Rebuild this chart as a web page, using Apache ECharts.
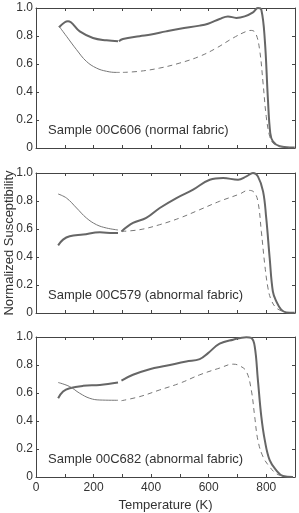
<!DOCTYPE html>
<html>
<head>
<meta charset="utf-8">
<script src="https://cdn.jsdelivr.net/npm/echarts@6/dist/echarts.min.js"></script>
<style>
  html, body { margin: 0; padding: 0; background: #fff; }
  #chart { width: 299px; height: 513px; }
</style>
</head>
<body>
<div id="chart"></div>
<script>
// sample labels, one per panel
const panelLabels = [
  'Sample 00C606 (normal fabric)',
  'Sample 00C579 (abnormal fabric)',
  'Sample 00C682 (abnormal fabric)'
];
const xName = 'Temperature (K)';
const yName = 'Normalized Susceptibility';

// panel 1 - 00C606  [temperature K, normalized susceptibility]
const p1ThickLow = [[80,0.862],[100,0.898],[111,0.905],[152,0.833],[198,0.786],[245,0.769],[285,0.762]];
const p1ThickHigh = [[288,0.762],[302,0.778],[360,0.798],[400,0.81],[452,0.833],[500,0.852],[569,0.874],[598,0.888],[638,0.921],[667,0.94],[696,0.929],[725,0.94],[754,0.969],[771,1.0],[783,0.988],[795,0.774],[806,0.345],[814,0.107],[823,0.048],[847,0.012],[881,0.004],[899,0.004]];
const p1Thin = [[80,0.87],[106,0.798],[141,0.702],[175,0.619],[210,0.571],[245,0.548],[280,0.54],[291,0.54]];
const p1Dashed = [[302,0.54],[360,0.548],[430,0.571],[500,0.607],[569,0.655],[627,0.714],[685,0.786],[731,0.833],[748,0.84],[763,0.821],[777,0.702],[789,0.464],[800,0.226],[812,0.083],[823,0.036],[847,0.012],[881,0.004]];

// panel 2 - 00C579
const p2ThickLow = [[77,0.483],[94,0.524],[117,0.548],[164,0.56],[222,0.576],[268,0.571],[285,0.571]];
const p2ThickHigh = [[297,0.583],[337,0.643],[383,0.679],[430,0.75],[488,0.821],[546,0.881],[604,0.952],[650,0.964],[702,0.952],[731,0.976],[754,1.0],[771,0.976],[789,0.869],[800,0.679],[812,0.393],[823,0.155],[835,0.083],[852,0.024],[870,0.004],[899,0.002]];
const p2Thin = [[77,0.85],[106,0.821],[141,0.75],[175,0.679],[210,0.631],[245,0.607],[285,0.593]];
const p2Dashed = [[297,0.583],[360,0.595],[430,0.631],[500,0.679],[569,0.738],[638,0.798],[708,0.85],[737,0.876],[757,0.864],[771,0.798],[783,0.583],[795,0.345],[806,0.179],[817,0.095],[835,0.036],[858,0.012]];

// panel 3 - 00C682
const p3ThickLow = [[77,0.562],[94,0.61],[117,0.634],[164,0.651],[222,0.658],[285,0.675]];
const p3ThickHigh = [[297,0.689],[337,0.73],[395,0.77],[452,0.794],[522,0.825],[569,0.842],[598,0.885],[638,0.952],[685,0.981],[731,0.998],[748,0.993],[760,0.933],[771,0.694],[783,0.431],[795,0.263],[812,0.12],[835,0.048],[858,0.007],[893,0.0]];
const p3Thin = [[77,0.675],[117,0.646],[152,0.598],[187,0.562],[222,0.55],[285,0.548]];
const p3Dashed = [[297,0.545],[360,0.574],[430,0.622],[500,0.67],[569,0.73],[638,0.778],[685,0.806],[708,0.794],[731,0.754],[748,0.622],[760,0.431],[771,0.263],[789,0.144],[812,0.072],[835,0.024],[858,0.005]];

const panels = [
  { thick: [p1ThickLow, p1ThickHigh], thin: p1Thin, dashed: p1Dashed },
  { thick: [p2ThickLow, p2ThickHigh], thin: p2Thin, dashed: p2Dashed },
  { thick: [p3ThickLow, p3ThickHigh], thin: p3Thin, dashed: p3Dashed }
];

const font = '"Liberation Sans", Arial, sans-serif';
const tops = [8, 173, 337];
const plotH = 140;

const grid = [], xAxis = [], yAxis = [], series = [], graphic = [];
const lineCol = '#444';

panels.forEach(function (p, i) {
  grid.push({ left: 36, top: tops[i], width: 259, height: plotH, outerBoundsMode: 'none', containLabel: false });
  const last = i === panels.length - 1;
  const baseX = {
    gridIndex: i, type: 'value', min: 0, max: 900, interval: 100,
    axisLine: { show: true, onZero: false, lineStyle: { color: lineCol, width: 1 } },
    axisTick: { show: true, inside: true, length: 3, lineStyle: { color: lineCol } },
    splitLine: { show: false }
  };
  xAxis.push(Object.assign({}, baseX, {
    position: 'bottom',
    axisLabel: {
      show: last, color: '#333', fontSize: 12, fontFamily: font, margin: 5,
      formatter: function (v) { return v % 200 === 0 ? String(v) : ''; }
    },
    name: last ? xName : '', nameLocation: 'middle', nameGap: 22,
    nameTextStyle: { color: '#333', fontSize: 13, fontFamily: font }
  }));
  xAxis.push(Object.assign({}, baseX, { position: 'top', axisLabel: { show: false } }));

  const baseY = {
    gridIndex: i, type: 'value', min: 0, max: 1, interval: 0.2,
    axisLine: { show: true, onZero: false, lineStyle: { color: lineCol, width: 1 } },
    axisTick: { show: true, inside: true, length: 3, lineStyle: { color: lineCol } },
    splitLine: { show: false }
  };
  yAxis.push(Object.assign({}, baseY, {
    position: 'left',
    axisLabel: {
      color: '#333', fontSize: 12, fontFamily: font, margin: 3,
      formatter: function (v) { return v === 0 ? '0' : v.toFixed(1); }
    },
    name: i === 1 ? yName : '', nameLocation: 'middle', nameGap: 20, nameRotate: 90,
    nameMoveOverlap: false,
    nameTextStyle: { color: '#333', fontSize: 13, fontFamily: font }
  }));
  yAxis.push(Object.assign({}, baseY, { position: 'right', axisLabel: { show: false } }));

  const ax = { xAxisIndex: 2 * i, yAxisIndex: 2 * i };
  p.thick.forEach(function (part) {
    series.push(Object.assign({
      type: 'line', data: part, smooth: 0.4, symbol: 'none', silent: true,
      lineStyle: { color: '#666', width: 2 }
    }, ax));
  });
  series.push(Object.assign({
    type: 'line', data: p.thin, smooth: 0.4, symbol: 'none', silent: true,
    lineStyle: { color: '#777', width: 1 }
  }, ax));
  series.push(Object.assign({
    type: 'line', data: p.dashed, smooth: 0.4, symbol: 'none', silent: true,
    lineStyle: { color: '#777', width: 1, type: [5, 4] }
  }, ax));

  graphic.push({
    type: 'text', left: 48, top: tops[i] + plotH - 24,
    style: { text: panelLabels[i], fill: '#333', fontSize: 13, fontFamily: font }
  });
});

const chart = echarts.init(document.getElementById('chart'));
chart.setOption({
  animation: false,
  backgroundColor: '#fff',
  grid: grid,
  xAxis: xAxis,
  yAxis: yAxis,
  series: series,
  graphic: graphic
});
</script>
</body>
</html>
